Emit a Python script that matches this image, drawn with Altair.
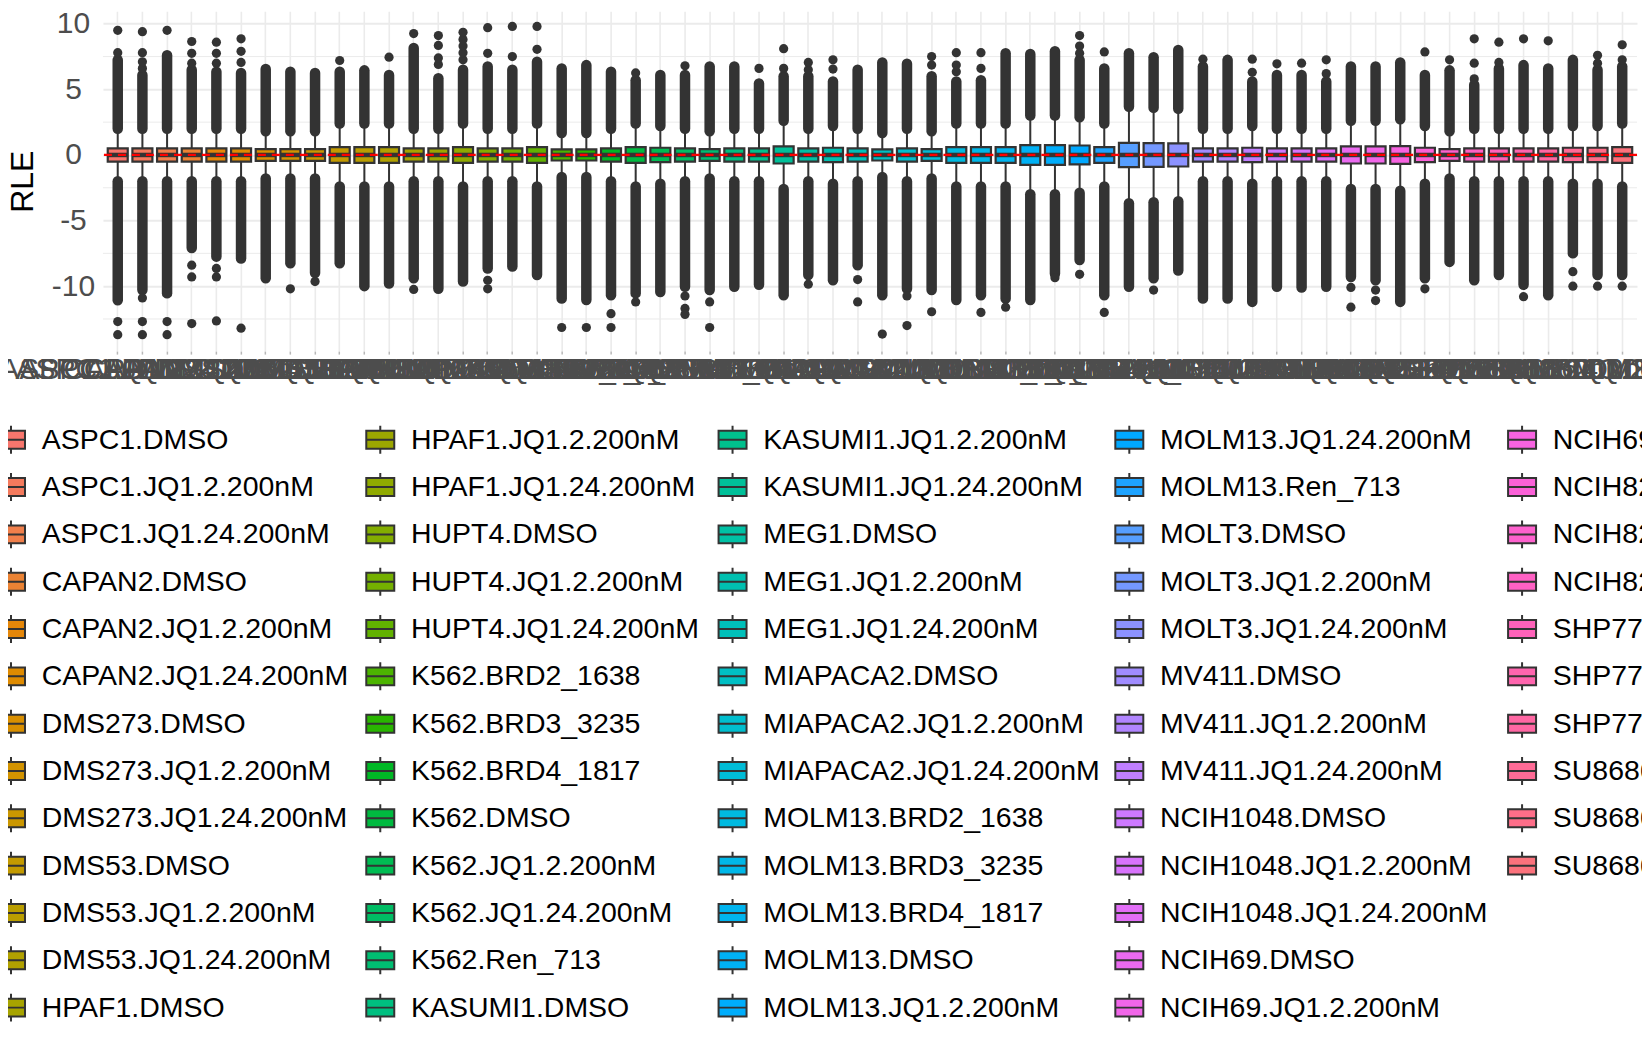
"Script to draw the RLE boxplot per sample with a ggplot-like legend"

import math

import pandas as pd
import altair as alt


samples = [
    "ASPC1.DMSO", "ASPC1.JQ1.2.200nM", "ASPC1.JQ1.24.200nM",
    "CAPAN2.DMSO", "CAPAN2.JQ1.2.200nM", "CAPAN2.JQ1.24.200nM",
    "DMS273.DMSO", "DMS273.JQ1.2.200nM", "DMS273.JQ1.24.200nM",
    "DMS53.DMSO", "DMS53.JQ1.2.200nM", "DMS53.JQ1.24.200nM",
    "HPAF1.DMSO", "HPAF1.JQ1.2.200nM", "HPAF1.JQ1.24.200nM",
    "HUPT4.DMSO", "HUPT4.JQ1.2.200nM", "HUPT4.JQ1.24.200nM",
    "K562.BRD2_1638", "K562.BRD3_3235", "K562.BRD4_1817", "K562.DMSO",
    "K562.JQ1.2.200nM", "K562.JQ1.24.200nM", "K562.Ren_713",
    "KASUMI1.DMSO", "KASUMI1.JQ1.2.200nM", "KASUMI1.JQ1.24.200nM",
    "MEG1.DMSO", "MEG1.JQ1.2.200nM", "MEG1.JQ1.24.200nM",
    "MIAPACA2.DMSO", "MIAPACA2.JQ1.2.200nM", "MIAPACA2.JQ1.24.200nM",
    "MOLM13.BRD2_1638", "MOLM13.BRD3_3235", "MOLM13.BRD4_1817", "MOLM13.DMSO",
    "MOLM13.JQ1.2.200nM", "MOLM13.JQ1.24.200nM", "MOLM13.Ren_713",
    "MOLT3.DMSO", "MOLT3.JQ1.2.200nM", "MOLT3.JQ1.24.200nM",
    "MV411.DMSO", "MV411.JQ1.2.200nM", "MV411.JQ1.24.200nM",
    "NCIH1048.DMSO", "NCIH1048.JQ1.2.200nM", "NCIH1048.JQ1.24.200nM",
    "NCIH69.DMSO", "NCIH69.JQ1.2.200nM", "NCIH69.JQ1.24.200nM",
    "NCIH82.DMSO", "NCIH82.JQ1.2.200nM", "NCIH82.JQ1.24.200nM",
    "SHP77.DMSO", "SHP77.JQ1.2.200nM", "SHP77.JQ1.24.200nM",
    "SU8686.DMSO", "SU8686.JQ1.2.200nM", "SU8686.JQ1.24.200nM",
]

# half of each box's IQR (boxes are centred on zero)
box_half = [
    0.5, 0.5, 0.5, 0.5, 0.5, 0.5, 0.45, 0.45, 0.45, 0.6, 0.6, 0.6,
    0.5, 0.5, 0.6, 0.5, 0.5, 0.6, 0.42, 0.42, 0.5, 0.6, 0.55, 0.5,
    0.45, 0.5, 0.5, 0.65, 0.5, 0.55, 0.5, 0.42, 0.5, 0.45, 0.6, 0.6,
    0.6, 0.75, 0.75, 0.72, 0.6, 0.92, 0.9, 0.88, 0.5, 0.5, 0.55, 0.5,
    0.5, 0.5, 0.65, 0.65, 0.68, 0.55, 0.45, 0.5, 0.5, 0.5, 0.5, 0.55, 0.55, 0.6,
]
medians = [0.0] * len(samples)  # every median sits on zero

# where the dense run of outliers stops, above and below each box
col_top = [
    7.25, 6.1, 7.6, 6.5, 6.35, 6.25, 6.55, 6.35, 6.25, 6.35, 6.45, 6.1,
    8.15, 5.85, 6.5, 6.75, 6.5, 7.1, 6.6, 6.85, 6.35, 5.7, 6.1, 6.1,
    6.75, 6.75, 5.45, 6.0, 6.0, 5.6, 6.5, 7.05, 6.95, 6.0, 5.6, 5.7,
    7.75, 7.7, 7.9, 7.25, 6.6, 7.75, 7.45, 8.0, 6.75, 7.25, 5.6, 6.1,
    6.1, 5.6, 6.75, 6.75, 7.05, 6.1, 6.45, 5.35, 6.6, 6.85, 6.6, 7.25, 6.5, 6.75,
]
col_bottom = [
    -11.07, -10.3, -10.55, -7.1, -7.75, -7.9, -9.4, -8.25, -9.0, -8.25, -10.0, -9.8,
    -9.4, -10.2, -9.65, -8.65, -8.5, -9.15, -10.95, -11.05, -10.7, -10.55, -10.45, -10.05,
    -10.3, -10.05, -9.9, -10.7, -9.15, -9.55, -8.4, -10.7, -10.2, -10.3, -11.05, -10.7,
    -10.95, -11.05, -9.05, -8.0, -10.7, -10.05, -9.4, -8.8, -10.95, -10.95, -11.2, -10.05,
    -10.1, -10.05, -9.3, -9.55, -11.2, -9.4, -8.15, -9.55, -9.15, -9.9, -10.7, -7.5, -9.15, -9.15,
]

# isolated outliers beyond the dense runs
stray_high = [
    [7.8, 9.5], [6.6, 7.1, 7.8, 9.4], [9.5], [7.0, 7.75, 8.65], [7.0, 7.75, 8.6],
    [7.05, 7.9, 8.85], [], [], [], [7.2], [], [7.45],
    [9.25], [6.9, 7.4, 8.35, 9.1], [7.25, 7.8, 8.3, 8.8, 9.35], [7.75, 9.7],
    [7.5, 9.8], [8.05, 9.8], [], [], [], [6.25], [], [6.8],
    [], [], [6.6], [6.6, 8.1], [6.5, 7.05], [6.55, 7.25], [], [], [],
    [6.85, 7.5], [6.35, 6.85, 7.8], [6.6, 7.8],
    [], [], [], [7.75, 8.3, 9.1], [7.85], [], [], [], [7.3], [], [6.3, 7.3], [6.95],
    [7.0], [6.2, 7.25], [], [], [], [7.85], [7.25], [5.8, 7.0, 8.85],
    [7.05, 8.6], [8.85], [8.7], [], [7.0, 7.6], [7.25, 8.4],
]
stray_low = [
    [-12.7, -13.7], [-10.9, -12.7, -13.7], [-12.7, -13.7], [-8.4, -9.3, -12.85],
    [-8.65, -9.3, -12.65], [-13.2], [], [-10.2], [-9.65], [], [], [],
    [-10.25], [], [], [-9.55, -10.2], [], [], [-13.15], [-13.15], [-12.1, -13.15],
    [-11.2], [], [-10.75, -11.7, -12.15],
    [-11.2, -13.15], [], [], [], [-9.85], [], [-9.5, -11.2], [-13.65],
    [-10.75, -13.0], [-11.95], [], [-12.0],
    [-11.6], [], [-9.35], [-9.1], [-12.0], [], [-10.3], [], [], [], [], [],
    [], [], [-10.1, -11.6], [-10.3, -11.1], [], [-10.2], [], [], [], [-10.8], [],
    [-8.9, -10.0], [-10.0], [-10.0],
]

major_breaks = [-10, -5, 0, 5, 10]
minor_breaks = [-12.5, -7.5, -2.5, 2.5, 7.5]
ref_line = [0]

FONT = "Liberation Sans"
DARK = "#333333"
KEY_PATH = "M-1,-0.64H1V0.64H-1Z M-1,0H1 M0,-0.64V-1 M0,0.64V1"


def hcl_hex(h, c=100.0, l=65.0):
    "Polar LUV to sRGB hex, the way R's hcl() does it"
    xn, yn, zn = 95.047, 100.0, 108.883
    big_y = yn * ((l + 16) / 116) ** 3
    t = xn + yn + zn
    x, y = xn / t, yn / t
    un = 2 * x / (6 * y - x + 1.5)
    vn = 4.5 * y / (6 * y - x + 1.5)
    u = c * math.cos(math.radians(h)) / (13 * l) + un
    v = c * math.sin(math.radians(h)) / (13 * l) + vn
    big_x = 9.0 * big_y * u / (4 * v)
    big_z = -big_x / 3 - 5 * big_y + 3 * big_y / v
    big_x, big_y, big_z = big_x / 100, big_y / 100, big_z / 100
    rgb = [
        3.240479 * big_x - 1.537150 * big_y - 0.498535 * big_z,
        -0.969256 * big_x + 1.875992 * big_y + 0.041556 * big_z,
        0.055648 * big_x - 0.204043 * big_y + 1.057311 * big_z,
    ]
    out = []
    for ch in rgb:
        ch = 1.055 * ch ** (1 / 2.4) - 0.055 if ch > 0.00304 else 12.92 * ch
        out.append(min(255, max(0, round(ch * 255))))
    return "#{:02X}{:02X}{:02X}".format(*out)


def hue_palette(n):
    "ggplot2's default discrete hue palette"
    return [hcl_hex((15 + i * 360 / n) % 360) for i in range(n)]


colors = hue_palette(len(samples))
color_scale = alt.Scale(domain=samples, range=colors)

boxes = pd.DataFrame({"sample": samples, "half": box_half, "median": medians})
boxes["q1"] = -boxes["half"]
boxes["q3"] = boxes["half"]
boxes["lo"] = boxes["q1"] - 1.5 * (boxes["q3"] - boxes["q1"])
boxes["hi"] = boxes["q3"] + 1.5 * (boxes["q3"] - boxes["q1"])
boxes["top"] = col_top
boxes["bottom"] = col_bottom

whiskers = pd.concat([
    boxes[["sample", "q3", "hi"]].set_axis(["sample", "y", "y2"], axis=1),
    boxes[["sample", "q1", "lo"]].set_axis(["sample", "y", "y2"], axis=1),
])
runs = pd.concat([
    boxes[["sample", "hi", "top"]].set_axis(["sample", "y", "y2"], axis=1),
    boxes[["sample", "lo", "bottom"]].set_axis(["sample", "y", "y2"], axis=1),
])
strays = pd.DataFrame(
    [(s, v) for s, vals in zip(samples, stray_high) for v in vals]
    + [(s, v) for s, vals in zip(samples, stray_low) for v in vals],
    columns=["sample", "value"],
)

x_enc = alt.X(
    "sample:N", sort=samples,
    scale=alt.Scale(domain=samples, paddingInner=0, paddingOuter=0.1),
    axis=alt.Axis(
        title=None, labelAngle=0, labelAlign="center", labelBaseline="top",
        labelFontSize=30, labelFont=FONT, labelColor="#4D4D4D",
        labelOverlap=False, labelLimit=0, labelPadding=0,
        ticks=True, tickSize=3, tickWidth=1.5, tickColor="#B8B8B8",
        domain=False, grid=True, gridColor="#EBEBEB", gridWidth=1.6,
    ),
)
y_scale = alt.Scale(domain=[-14.95, 10.95], nice=False, zero=False)
y_axis = alt.Axis(
    title="RLE", values=major_breaks, labelExpr="'' + datum.value",
    labelAlign="center", labelPadding=30, labelFontSize=30, labelFont=FONT,
    labelColor="#4D4D4D", labelFlush=False, ticks=False, domain=False,
    grid=True, gridColor="#EBEBEB", gridWidth=2,
    titleFontSize=32, titleFont=FONT, titleColor="black",
    titleFontWeight="normal", titlePadding=12,
)


def y_enc(field):
    return alt.Y(field, scale=y_scale, axis=y_axis)


minor = alt.Chart(pd.DataFrame({"v": minor_breaks})).mark_rule(
    color="#EBEBEB", strokeWidth=1).encode(y=y_enc("v:Q"))

whisker_layer = alt.Chart(whiskers).mark_rule(color=DARK, strokeWidth=2).encode(
    x=x_enc, y=y_enc("y:Q"), y2="y2:Q")

run_layer = alt.Chart(runs).mark_rule(
    color=DARK, strokeWidth=10.5, strokeCap="round").encode(
    x=x_enc, y=y_enc("y:Q"), y2="y2:Q")

stray_layer = alt.Chart(strays).mark_circle(color=DARK, size=85, opacity=1).encode(
    x=x_enc, y=y_enc("value:Q"))

box_layer = alt.Chart(boxes).mark_bar(width=20, stroke=DARK, strokeWidth=2.2).encode(
    x=x_enc, y=y_enc("q1:Q"), y2="q3:Q",
    color=alt.Color("sample:N", scale=color_scale, legend=None))

median_layer = alt.Chart(boxes).mark_tick(
    color=DARK, size=20, thickness=4.5, opacity=1).encode(
    x=x_enc, y=y_enc("median:Q"))

zero_line = alt.Chart(pd.DataFrame({"v": ref_line})).mark_rule(
    color="red", strokeWidth=2.2, strokeDash=[8, 6]).encode(y=y_enc("v:Q"))

plot = alt.layer(
    minor, whisker_layer, run_layer, stray_layer, box_layer, median_layer, zero_line
).properties(width=1535, height=340)

# legend laid out as ggplot does: 13 rows, filled column by column
legend_df = pd.DataFrame({
    "sample": samples,
    "col": [i // 13 for i in range(len(samples))],
    "row": [i % 13 for i in range(len(samples))],
})
legend_base = alt.Chart(legend_df).encode(
    x=alt.X("col:Q", axis=None,
            scale=alt.Scale(domain=[0, 1, 2, 3, 4], range=[-92, 277.5, 630, 1027, 1420])),
    y=alt.Y("row:O", axis=None, scale=alt.Scale(domain=list(range(13)))),
)
legend_keys = legend_base.mark_point(
    shape=KEY_PATH, size=784, filled=True, opacity=1, stroke=DARK, strokeWidth=2
).encode(fill=alt.Fill("sample:N", scale=color_scale, legend=None))
legend_text = legend_base.mark_text(
    align="left", baseline="middle", dx=30.7, fontSize=28.5, font=FONT, color="black"
).encode(text="sample:N")
legend = alt.layer(legend_keys, legend_text).properties(width=1800, height=615.6)

chart = alt.vconcat(plot, legend, spacing=32).properties(
    padding={"left": -15, "top": 0, "right": -260, "bottom": 0},
    background="white",
).configure_view(stroke=None)

chart.save("out.html", embed_options={"renderer": "svg", "actions": False})
